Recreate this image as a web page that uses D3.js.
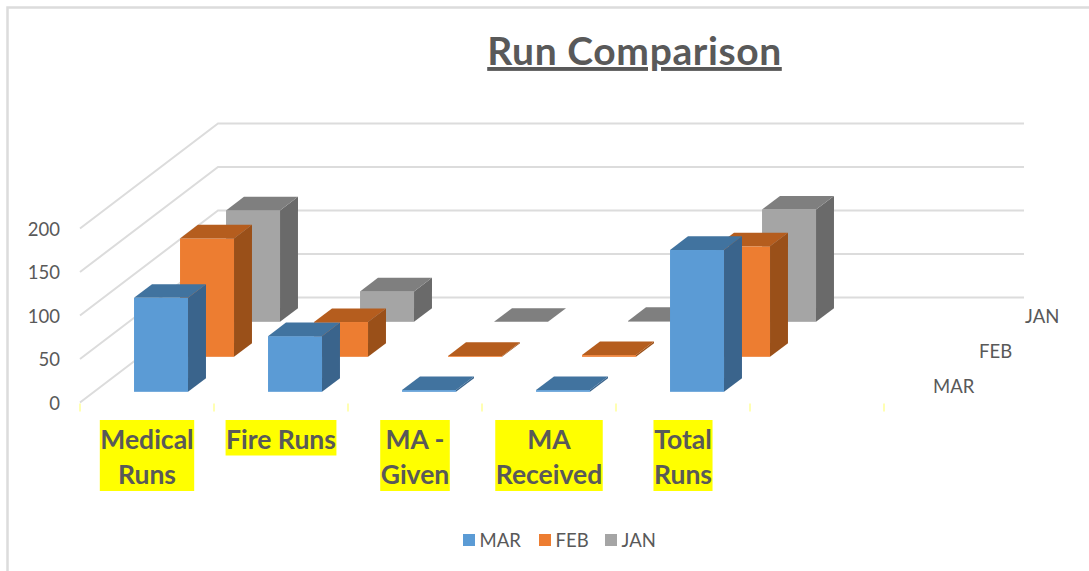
<!DOCTYPE html>
<html>
<head>
<meta charset="utf-8">
<script src="https://cdn.jsdelivr.net/npm/d3@7"></script>
<style>
  html, body { margin: 0; padding: 0; background: #fff; overflow: hidden; }
  text { font-family: Lato, "Open Sans", sans-serif; fill: #595959; }
</style>
</head>
<body>
<svg id="chart" width="1089" height="571"></svg>
<script>
// values
var categories = ["Medical Runs", "Fire Runs", "MA - Given", "MA Received", "Total Runs", ""];
var labelLines = [["Medical", "Runs"], ["Fire Runs"], ["MA -", "Given"], ["MA", "Received"], ["Total", "Runs"]];
var series = ["MAR", "FEB", "JAN"];
var marValues = [108, 64, 2, 2, 163, 0];
var febValues = [136, 40, 1, 2, 127, 0];
var janValues = [128, 35, 0, 1, 129, 0];
var valueTicks = [0, 50, 100, 150, 200];

var frontColors = {MAR: "#5b9bd5", FEB: "#ed7d31", JAN: "#a5a5a5"};
var topColors   = {MAR: "#41739f", FEB: "#b55d1e", JAN: "#7f7f7f"};
var sideColors  = {MAR: "#3a648c", FEB: "#9a5019", JAN: "#6a6a6a"};
var seriesValues = {MAR: marValues, FEB: febValues, JAN: janValues};

var svg = d3.select("#chart");

var floorLeft = 80, floorRight = 884, floorY = 402.5;
var depthW = 138, depthH = 105;

var x = d3.scaleBand().domain(categories).range([floorLeft, floorRight]).paddingInner(0.597).paddingOuter(0.2985);
var tickX = d3.scaleLinear().domain([0, categories.length]).range([floorLeft, floorRight]);
var y = d3.scaleLinear().domain([0, 200]).range([floorY, floorY - 174]);
var depthX = d3.scaleBand().domain(series).range([0, depthW]).paddingInner(0.61).paddingOuter(0.305);
var depthY = d3.scaleBand().domain(series).range([0, depthH]).paddingInner(0.61).paddingOuter(0.305);

// chart frame
svg.append("path")
    .attr("d", "M7.5,571V7.5H1089")
    .attr("fill", "none")
    .attr("stroke", "#dcdcdc")
    .attr("stroke-width", 2.5);

// walls
var grid = svg.append("g").attr("fill", "none").attr("stroke", "#dcdcdc").attr("stroke-width", 2);
valueTicks.forEach(function(v) {
    grid.append("path")
        .attr("d", d3.line()([[floorLeft, y(v)], [floorLeft + depthW, y(v) - depthH], [1024, y(v) - depthH]]));
});

// yellow category ticks
svg.append("g").selectAll("line")
    .data(d3.range(categories.length + 1))
    .join("line")
    .attr("x1", function(d) { return tickX(d); })
    .attr("x2", function(d) { return tickX(d); })
    .attr("y1", floorY + 1)
    .attr("y2", floorY + 9)
    .attr("stroke", "#ffff66")
    .attr("stroke-width", 1);

// value axis
var yAxis = svg.append("g")
    .attr("transform", "translate(" + (floorLeft - 12) + ",1)")
    .call(d3.axisLeft(y).tickValues(valueTicks).tickSize(0).tickPadding(8));
yAxis.select(".domain").remove();
yAxis.selectAll("text").attr("font-size", 18.5).attr("font-family", null);

// bars, back row first
var bars = svg.append("g");
series.slice().reverse().forEach(function(s) {
    var dx = depthX.bandwidth(), dy = depthY.bandwidth();
    var off = depthX(s), offY = depthY(s);
    seriesValues[s].forEach(function(v, i) {
        if (categories[i] === "") return;
        var x0 = x(categories[i]) + off, x1 = x0 + x.bandwidth();
        var base = floorY - offY, top = base - (floorY - y(v));
        var g = bars.append("g");
        g.append("rect")
            .attr("x", x0).attr("y", top)
            .attr("width", x1 - x0).attr("height", base - top)
            .attr("fill", frontColors[s]);
        g.append("path")
            .attr("d", d3.line()([[x1, base], [x1 + dx, base - dy], [x1 + dx, top - dy], [x1, top]]) + "Z")
            .attr("fill", sideColors[s]);
        g.append("path")
            .attr("d", d3.line()([[x0, top], [x0 + dx, top - dy], [x1 + dx, top - dy], [x1, top]]) + "Z")
            .attr("fill", topColors[s]);
    });
});

// series names along the depth axis
svg.append("g").selectAll("text")
    .data(series)
    .join("text")
    .attr("x", function(s) { return floorRight + 35 + depthX(s); })
    .attr("y", function(s) { return floorY - depthY(s) + 1; })
    .attr("font-size", 18.5)
    .text(function(s) { return s; });

// category labels on yellow highlight
var labels = svg.append("g");
labelLines.forEach(function(lines, i) {
    var cx = x(categories[i]) + x.bandwidth() / 2;
    var g = labels.append("g");
    var box = g.append("rect").attr("fill", "#ffff00");
    var t = g.append("text")
        .attr("text-anchor", "middle")
        .attr("font-size", 26.5)
        .attr("font-weight", 700);
    lines.forEach(function(line, j) {
        t.append("tspan").attr("x", cx).attr("y", 448.5 + j * 35.5).text(line);
    });
    var w = t.node().getBBox().width;
    box.attr("x", cx - w / 2 - 0.5).attr("y", 420)
        .attr("width", w + 1).attr("height", lines.length * 35.5);
});

// title
svg.append("text")
    .attr("x", 634.5)
    .attr("y", 65)
    .attr("text-anchor", "middle")
    .attr("font-size", 39)
    .attr("letter-spacing", 0.6)
    .attr("font-weight", 700)
    .attr("text-decoration", "underline")
    .text("Run Comparison");

// legend
var legendItem = d3.scaleOrdinal().domain(series).range([463, 539, 605]);
var legend = svg.append("g").selectAll("g")
    .data(series)
    .join("g")
    .attr("transform", function(s) { return "translate(" + legendItem(s) + ",534)"; });
legend.append("rect")
    .attr("width", 12).attr("height", 12)
    .attr("fill", function(s) { return frontColors[s]; });
legend.append("text")
    .attr("x", 16.5).attr("y", 12.5)
    .attr("font-size", 18.5)
    .text(function(s) { return s; });
</script>
</body>
</html>
